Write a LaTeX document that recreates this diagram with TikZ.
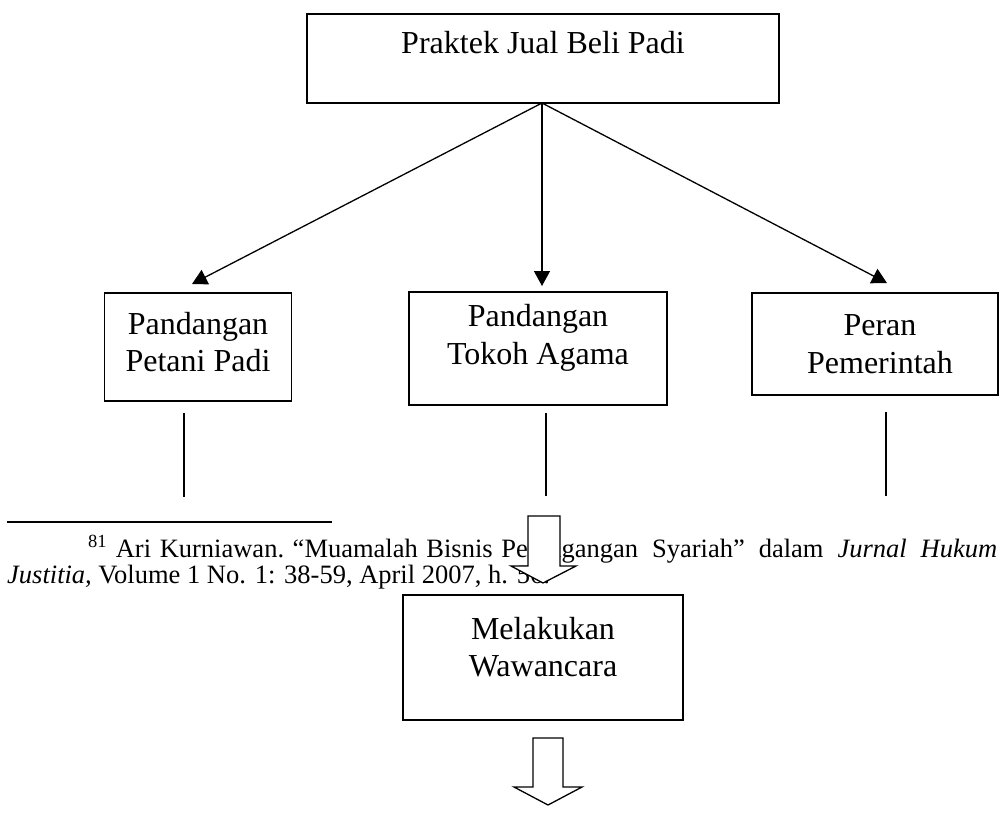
\documentclass[tikz,border=0pt]{standalone}
\usepackage{fontspec}
\setmainfont{Liberation Serif}
\usetikzlibrary{arrows.meta}
\newcommand{\fsp}{\hspace*{8.6pt}}
\begin{document}
\begin{tikzpicture}[x=1pt,y=-1pt,
  box/.style={draw, line width=1.5pt, rectangle, inner sep=0pt},
  lbl/.style={align=center, inner sep=0pt, font=\fontsize{32}{37.5}\selectfont},
  conn/.style={line width=1.3pt, -{Triangle[length=15pt,width=16pt]}},
  stem/.style={line width=1.3pt},
  hollow/.style={draw, fill=white, line width=1.3pt, line join=miter},
  fn/.style={inner sep=0pt, anchor=base west, font=\fontsize{26.5}{30}\selectfont}]
\useasboundingbox (0,0) rectangle (1001,814);
% top box
\node[box, minimum width=472pt, minimum height=89pt] (top) at (543,58.5) {};
\node[lbl] (toptxt) at (543,43) {Praktek Jual Beli Padi};
% second row
\node[box, minimum width=187pt, minimum height=108pt] (b1) at (198,347) {};
\node[lbl] (t1) at (198,342) {Pandangan\\Petani Padi};
\node[box, minimum width=258pt, minimum height=113pt] (b2) at (538,348.5) {};
\node[lbl] (t2) at (538,338) {Pandangan\\Tokoh Agama};
\node[box, minimum width=246pt, minimum height=102pt] (b3) at (875,344) {};
\node[lbl] (t3) at (880,344) {Peran\\Pemerintah};
% arrows
\coordinate (src) at (542,103);
\coordinate (e1) at (192,284);
\coordinate (e2) at (542,286);
\coordinate (e3) at (887,283);
\draw[conn] (src) -- (e1);
\draw[conn] (src) -- (e2);
\draw[conn] (src) -- (e3);
% stems
\coordinate (s1a) at (184,413); \coordinate (s1b) at (184,497);
\coordinate (s2a) at (546,413); \coordinate (s2b) at (546,496);
\coordinate (s3a) at (886,412); \coordinate (s3b) at (886,496);
\draw[stem] (s1a) -- (s1b);
\draw[stem] (s2a) -- (s2b);
\draw[stem] (s3a) -- (s3b);
% footnote
\draw[line width=1.5pt] (7,522) -- (332,522);
\node[fn] (fn1) at (88,557) {\makebox[909pt][s]{\textsuperscript{81}\fsp Ari\fsp Kurniawan.\fsp “Muamalah\fsp Bisnis\fsp Perdagangan Syariah” dalam \textit{Jurnal Hukum}}};
\node[fn] (fn2) at (7,583) {\textit{Justitia,} Volume 1 No. 1: 38-59, April 2007, h. 56.};
% hollow arrow 1
\draw[hollow] (528,516) -- (560,516) -- (560,566) -- (576,566) -- (543,583) -- (511,566) -- (528,566) -- cycle;
% wawancara box
\node[box, minimum width=280pt, minimum height=125pt] (b4) at (543,657.5) {};
\node[lbl] (t4) at (543,647) {Melakukan\\Wawancara};
% hollow arrow 2
\draw[hollow] (533,738) -- (563,738) -- (563,787) -- (582,787) -- (548,805) -- (514,787) -- (533,787) -- cycle;
\end{tikzpicture}
\end{document}
